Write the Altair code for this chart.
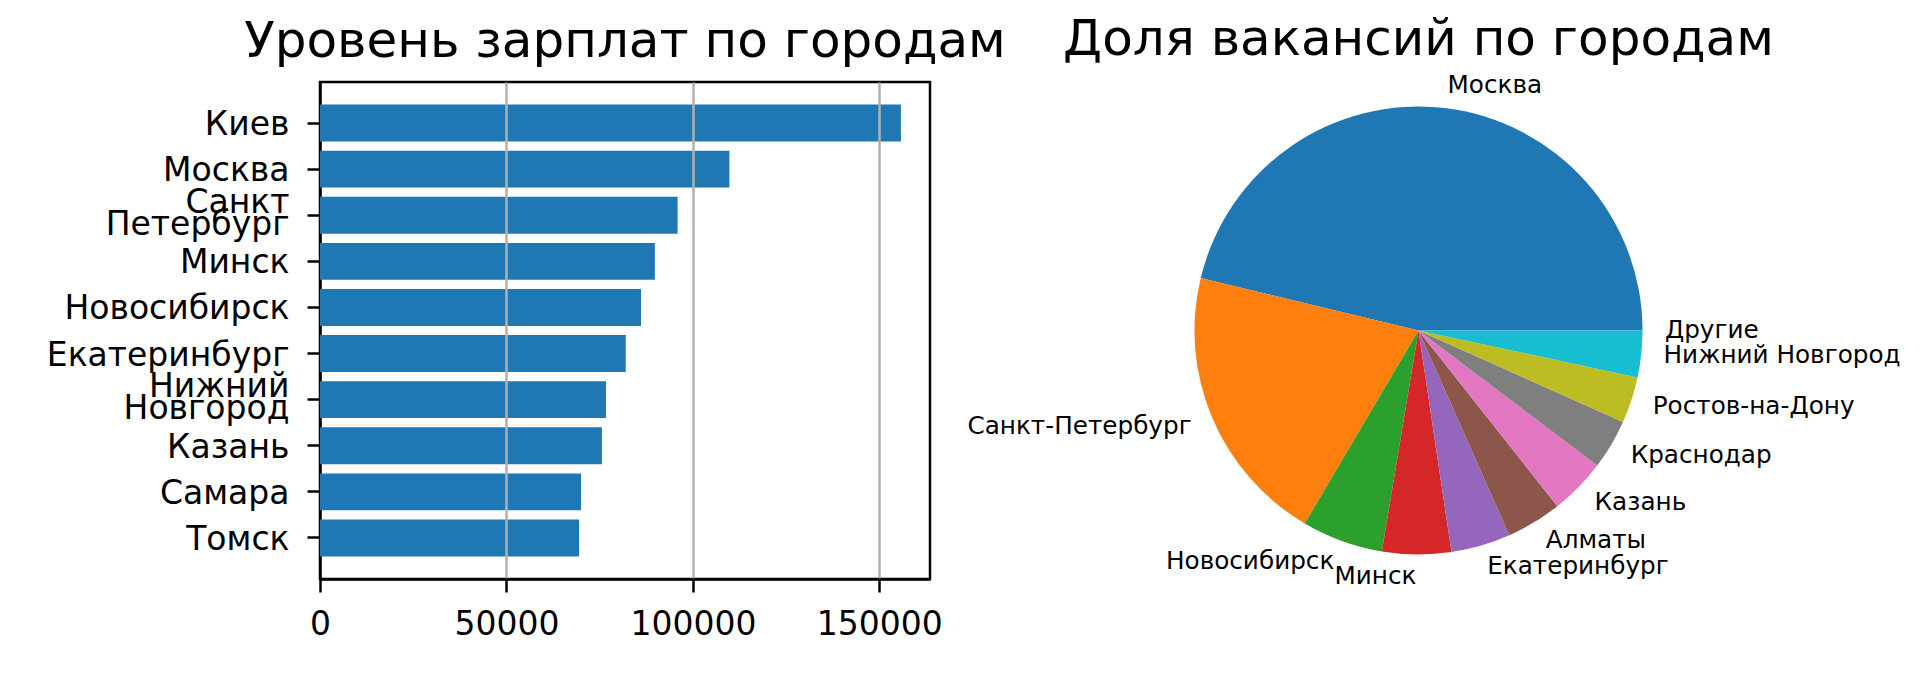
import math
import altair as alt
import pandas as pd

# ---- data ----
salary_cities = ["Киев", "Москва", "Санкт\nПетербург", "Минск", "Новосибирск",
                 "Екатеринбург", "Нижний\nНовгород", "Казань", "Самара", "Томск"]
salary_values = [155800, 109800, 95900, 89800, 86100, 82000, 76700, 75600, 70000, 69500]
salary_ticks = [0, 50000, 100000, 150000]

share_cities = ["Москва", "Санкт-Петербург", "Новосибирск", "Минск", "Екатеринбург",
                "Алматы", "Казань", "Краснодар", "Ростов-на-Дону", "Нижний Новгород", "Другие"]
share_values = [46.24, 20.29, 5.86, 4.97, 4.29, 4.00, 4.06, 3.61, 3.33, 3.36, 0.0]
share_colors = ["#1f77b4", "#ff7f0e", "#2ca02c", "#d62728", "#9467bd", "#8c564b",
                "#e377c2", "#7f7f7f", "#bcbd22", "#17becf", "#1f77b4"]

FONT = "DejaVu Sans"
TICK_FS = 33
TITLE_FS = 50
PIE_FS = 24.7
LINE_H = 22.5

bar_df = pd.DataFrame({"city": salary_cities, "salary": salary_values})
pie_df = pd.DataFrame({"city": share_cities, "share": share_values,
                       "idx": list(range(len(share_cities)))})

# ---- left: horizontal bars ----
bars = alt.Chart(bar_df).mark_bar(color="#1f77b4").encode(
    x=alt.X("salary:Q",
            scale=alt.Scale(domain=[0, max(salary_values) * 1.05], nice=False, zero=True),
            axis=alt.Axis(values=salary_ticks, format="d", title=None,
                          grid=True,
                          gridColor=alt.condition("datum.value === 0", alt.value("rgba(0,0,0,0)"), alt.value("#b0b0b0")),
                          gridWidth=2.5, zindex=1,
                          domainColor="black", domainWidth=2.5,
                          tickColor="black", tickWidth=2.5, tickSize=13,
                          labelFont=FONT, labelFontSize=TICK_FS, labelColor="black",
                          labelPadding=16, labelFlush=False, labelOverlap=False)),
    y=alt.Y("city:N", sort=salary_cities,
            scale=alt.Scale(paddingInner=0.2, paddingOuter=0.49),
            axis=alt.Axis(title=None, grid=False,
                          labelExpr="split(datum.label, '\\n')",
                          labelLineHeight=LINE_H,
                          labelOffset=alt.condition("length(split(datum.value, '\\n')) > 1",
                                                    alt.value(-12.7), alt.value(2)),
                          domainColor="black", domainWidth=2.5,
                          tickColor="black", tickWidth=2.5, tickSize=13,
                          labelFont=FONT, labelFontSize=TICK_FS, labelColor="black",
                          labelPadding=18, labelOverlap=False, labelLimit=400)),
).properties(
    width=610, height=497,
    view=alt.ViewBackground(stroke="black", strokeWidth=2.5),
    title=alt.TitleParams("Уровень зарплат по городам", font=FONT, fontSize=TITLE_FS,
                          fontWeight="normal", color="black", anchor="middle",
                          baseline="alphabetic", offset=-25),
)

# ---- right: pie ----
theta_scale = alt.Scale(domain=[0, 1], range=[math.pi / 2, math.pi / 2 - 2 * math.pi])

base = alt.Chart(pie_df).transform_joinaggregate(
    total="sum(share)"
).transform_window(
    cum="sum(share)", sort=[alt.SortField("idx")], frame=[None, 0]
).transform_calculate(
    start="(datum.cum - datum.share) / datum.total",
    end="datum.cum / datum.total",
    mid="(datum.cum - datum.share / 2) / datum.total",
)
base = base.transform_calculate(side="cos(2 * PI * datum.mid) >= -1e-9 ? 'r' : 'l'")

R = 224
arcs = base.mark_arc(outerRadius=R, stroke=None).encode(
    theta=alt.Theta("start:Q", scale=theta_scale, stack=None),
    theta2="end:Q",
    color=alt.Color("city:N", scale=alt.Scale(domain=share_cities[:-1], range=share_colors[:-1]),
                    legend=None),
    order=alt.Order("idx:Q"),
)
labels_r = base.transform_filter("datum.side == 'r'").mark_text(
    align="left", baseline="middle", radius=R * 1.1, font=FONT, fontSize=PIE_FS, color="black"
).encode(theta=alt.Theta("mid:Q", scale=theta_scale, stack=None), text="city:N")
labels_l = base.transform_filter("datum.side == 'l'").mark_text(
    align="right", baseline="middle", radius=R * 1.1, font=FONT, fontSize=PIE_FS, color="black"
).encode(theta=alt.Theta("mid:Q", scale=theta_scale, stack=None), text="city:N")

pie = alt.layer(arcs, labels_r, labels_l).properties(
    width=497, height=497,
    title=alt.TitleParams("Доля вакансий по городам", font=FONT, fontSize=TITLE_FS,
                          fontWeight="normal", color="black", anchor="middle",
                          baseline="alphabetic", offset=-32),
)

chart = alt.hconcat(bars, pie, spacing=240, bounds="flush").properties(
    padding={"left": 37, "top": 6, "right": 5, "bottom": 5}
).configure_view(stroke=None)

chart.save("out.html", embed_options={"renderer": "svg", "actions": False})
